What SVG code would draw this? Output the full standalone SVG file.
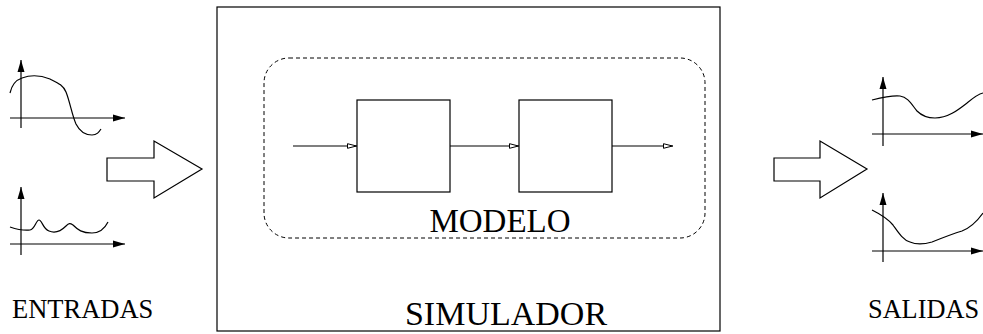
<svg xmlns="http://www.w3.org/2000/svg" width="983" height="334" viewBox="0 0 983 334">
<style>
.ln{fill:none;stroke:#000;stroke-width:1.2}
.bx{fill:#fff;stroke:#000;stroke-width:1.2}
.txt{font-family:"Liberation Serif",serif;fill:#000}
</style>
<defs>
<marker id="open" viewBox="0 0 10 6" refX="10" refY="3" markerWidth="10" markerHeight="6" markerUnits="userSpaceOnUse" orient="auto">
<path d="M0.5,0.7 L9.5,3 L0.5,5.3 Z" fill="#fff" stroke="#000" stroke-width="1"/>
</marker>
<marker id="solid" viewBox="0 0 12 8" refX="12" refY="4" markerWidth="12" markerHeight="8" markerUnits="userSpaceOnUse" orient="auto">
<path d="M0,0.5 L12,4 L0,7.5 Z" fill="#000"/>
</marker>
</defs>
<rect width="983" height="334" fill="#fff"/>

<g id="simulador">
<rect class="bx" x="217" y="7" width="503" height="324"/>
<text class="txt" x="506" y="325" font-size="34" text-anchor="middle">SIMULADOR</text>
</g>

<g id="modelo">
<rect x="264" y="58" width="441" height="180" rx="25" ry="25" fill="none" stroke="#000" stroke-width="1" stroke-dasharray="4,3"/>
<text class="txt" x="500" y="232" font-size="33" text-anchor="middle">MODELO</text>
</g>

<g id="bloque1">
<rect class="bx" x="357" y="100" width="93" height="92"/>
</g>
<g id="bloque2">
<rect class="bx" x="519" y="100" width="93" height="92"/>
</g>

<g id="connectors">
<line class="ln" x1="293" y1="146" x2="357" y2="146" marker-end="url(#open)"/>
<line class="ln" x1="450" y1="146" x2="519" y2="146" marker-end="url(#open)"/>
<line class="ln" x1="612" y1="146" x2="673" y2="146" marker-end="url(#open)"/>
</g>

<g id="flecha-entrada">
<polygon class="bx" points="107,158 154,158 154,141 202,169 154,198 154,181 107,181"/>
</g>
<g id="flecha-salida">
<polygon class="bx" points="774,158 820,158 820,141 867,169 820,198 820,181 774,181"/>
</g>

<g id="entrada1">
<line class="ln" x1="21" y1="128" x2="21" y2="60" marker-end="url(#solid)"/>
<line class="ln" x1="10" y1="118" x2="125" y2="118" marker-end="url(#solid)"/>
<path class="ln" d="M10,93 C12,84 16,80 22,78 C30,75 40,75 50,79 C58,83 63,85 66,92 C70,102 72,115 76,124 C80,132 86,135 92,135 C97,135 99,132 101,129"/>
</g>

<g id="entrada2">
<line class="ln" x1="21" y1="255" x2="21" y2="187" marker-end="url(#solid)"/>
<line class="ln" x1="10" y1="244" x2="125" y2="244" marker-end="url(#solid)"/>
<path class="ln" d="M10,227 C16,229 22,231 30,230 C35,229 36,220 39,220 C42,220 43,229 49,231 C56,234 62,230 66,226 C69,223 70,223 73,225 C78,230 82,233 92,233 C100,233 105,228 108,222"/>
</g>

<g id="salida1">
<line class="ln" x1="883" y1="146" x2="883" y2="77" marker-end="url(#solid)"/>
<line class="ln" x1="872" y1="134" x2="983" y2="134" marker-end="url(#solid)"/>
<path class="ln" d="M872,100 C880,98 892,95 900,96 C908,97 912,105 917,111 C922,116 928,118 935,118 C948,118 958,110 967,103 C973,98 978,94 983,93"/>
</g>

<g id="salida2">
<line class="ln" x1="883" y1="262" x2="883" y2="193" marker-end="url(#solid)"/>
<line class="ln" x1="872" y1="251" x2="983" y2="251" marker-end="url(#solid)"/>
<path class="ln" d="M872,210 C880,214 888,219 893,225 C898,232 903,240 910,242 C917,245 925,244 932,242 C942,238 952,234 962,231 C972,227 978,220 983,213"/>
</g>

<g id="etiquetas">
<text class="txt" x="12" y="318" font-size="26.5">ENTRADAS</text>
<text class="txt" x="868" y="318" font-size="26.3">SALIDAS</text>
</g>
</svg>
